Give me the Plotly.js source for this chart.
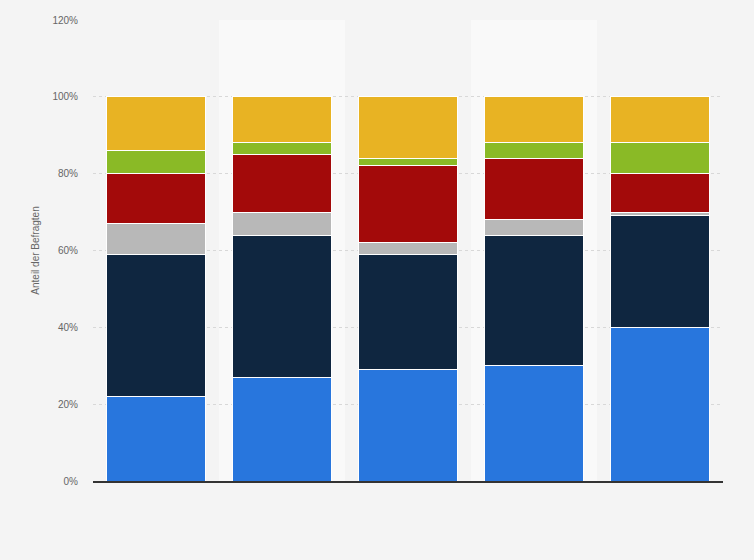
<!DOCTYPE html>
<html>
<head>
<meta charset="utf-8">
<script src="https://cdn.plot.ly/plotly-3.0.1.min.js"></script>
<style>html,body{margin:0;padding:0;background:#f4f4f4;}#chart{width:754px;height:560px;}</style>
</head>
<body>
<div id="chart"></div>
<script>
const categories = ['1', '2', '3', '4', '5'];
const seriesNames = ['Serie 1', 'Serie 2', 'Serie 3', 'Serie 4', 'Serie 5', 'Serie 6'];
const serie1 = [22, 27, 29, 30, 40];
const serie2 = [37, 37, 30, 34, 29];
const serie3 = [8, 6, 3, 4, 1];
const serie4 = [13, 15, 20, 16, 10];
const serie5 = [6, 3, 2, 4, 8];
const serie6 = [14, 12, 16, 12, 12];
const yTickValues = [0, 20, 40, 60, 80, 100, 120];
const yTickLabels = ['0%', '20%', '40%', '60%', '80%', '100%', '120%'];
const colors = ['#2876dd', '#0f2640', '#b8b8b8', '#a30a0a', '#8aba26', '#e8b323'];

const allSeries = [serie1, serie2, serie3, serie4, serie5, serie6];
const traces = allSeries.map((vals, i) => ({
  type: 'bar',
  name: seriesNames[i],
  x: categories,
  y: vals,
  marker: {color: colors[i], line: {color: '#ffffff', width: 1}},
  hoverinfo: 'y'
}));

const layout = {
  width: 754, height: 560,
  barmode: 'stack',
  bargap: 0.22,
  showlegend: false,
  paper_bgcolor: '#f4f4f4',
  plot_bgcolor: '#f4f4f4',
  margin: {l: 93, r: 31, t: 20, b: 79},
  font: {family: 'Liberation Sans, Arial, sans-serif', color: '#666666', size: 10},
  xaxis: {
    type: 'category',
    showticklabels: false,
    ticks: '',
    showgrid: false,
    showline: true,
    linecolor: '#333333',
    linewidth: 1.5,
    zeroline: false,
    range: [-0.5, 4.5]
  },
  yaxis: {
    range: [0, 120],
    tickvals: yTickValues,
    ticktext: yTickLabels,
    showgrid: true,
    gridcolor: '#d8d8d8',
    griddash: 'dot',
    gridwidth: 1,
    zeroline: false,
    ticks: 'outside',
    ticklen: 12,
    tickcolor: 'rgba(0,0,0,0)',
    tickfont: {size: 10, color: '#666666'},
    title: {text: 'Anteil der Befragten', font: {size: 10, color: '#666666'}, standoff: 10}
  },
  shapes: [
    {type: 'rect', xref: 'x', yref: 'paper', x0: 0.5, x1: 1.5, y0: 0, y1: 1, fillcolor: '#f9f9f9', line: {width: 0}, layer: 'below'},
    {type: 'rect', xref: 'x', yref: 'paper', x0: 2.5, x1: 3.5, y0: 0, y1: 1, fillcolor: '#f9f9f9', line: {width: 0}, layer: 'below'}
  ]
};

Plotly.newPlot('chart', traces, layout, {displayModeBar: false, staticPlot: true});
</script>
</body>
</html>
